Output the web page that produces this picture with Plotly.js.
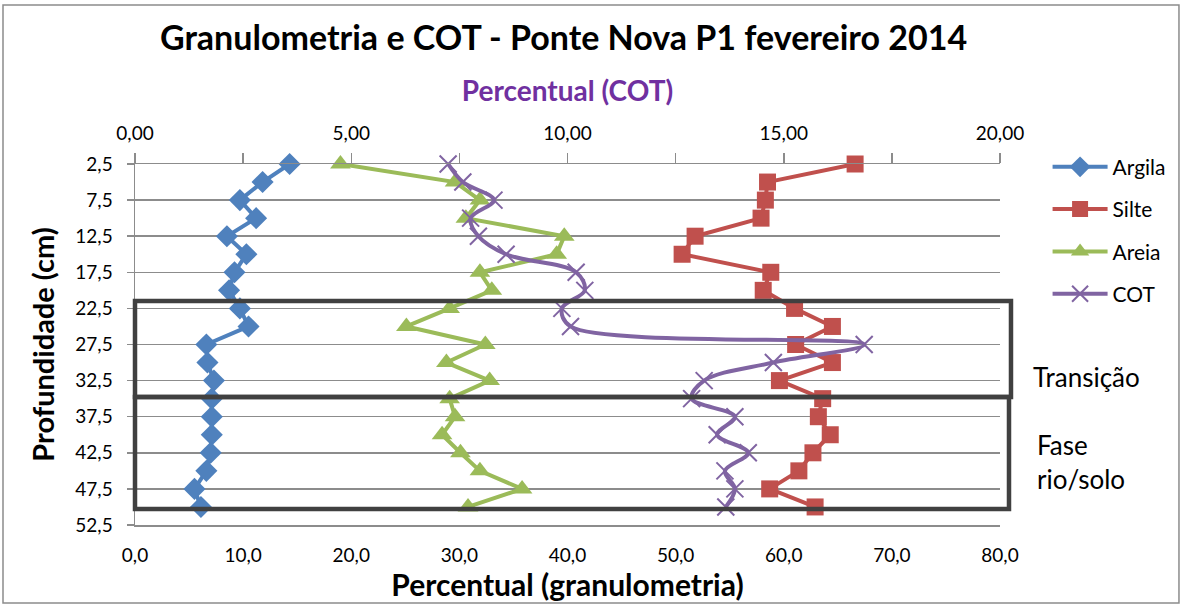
<!DOCTYPE html>
<html>
<head>
<meta charset="utf-8">
<script src="https://cdn.plot.ly/plotly-3.0.1.min.js"></script>
<style>html,body{margin:0;padding:0;background:#fff;}#chart{width:1184px;height:608px;}</style>
</head>
<body>
<div id="chart"></div>
<script>
// Depth (cm) of each sample
const depth = [2.5, 5, 7.5, 10, 12.5, 15, 17.5, 20, 22.5, 25, 27.5, 30, 32.5, 35, 37.5, 40, 42.5, 45, 47.5, 50];
// Granulometry (%)
const argila = [14.3, 11.8, 9.7, 11.2, 8.5, 10.3, 9.2, 8.7, 9.7, 10.5, 6.6, 6.7, 7.3, 7.1, 7.1, 7.1, 7.0, 6.6, 5.5, 6.1];
const silte  = [66.6, 58.5, 58.3, 57.9, 51.8, 50.6, 58.8, 58.1, 61.0, 64.5, 61.1, 64.5, 59.6, 63.6, 63.2, 64.3, 62.7, 61.4, 58.7, 62.9];
const areia  = [19.0, 29.6, 31.9, 30.6, 39.7, 39.0, 31.9, 33.0, 29.1, 25.1, 32.4, 28.8, 32.8, 29.1, 29.6, 28.4, 30.1, 31.9, 35.8, 30.8];
// Total organic carbon (%)
const cot    = [7.24, 7.58, 8.30, 7.76, 7.94, 8.58, 10.20, 10.40, 9.87, 10.07, 16.86, 14.76, 13.16, 12.87, 13.87, 13.46, 14.18, 13.64, 13.87, 13.66];

const seriesNames = ['Argila', 'Silte', 'Areia', 'COT'];
const chartTitle = 'Granulometria e COT - Ponte Nova P1 fevereiro 2014';
const zoneLabels = ['Transição', 'Fase<br>rio/solo'];

const FONT = 'Lato, "Open Sans", sans-serif';
const GRID = '#8c8c8c';

const traces = [
  {x: argila, y: depth, name: seriesNames[0], type: 'scatter', mode: 'lines+markers', xaxis: 'x', yaxis: 'y', legendgroup: 'a', cliponaxis: false,
   line: {color: '#4F81BD', width: 4}, marker: {symbol: 'diamond', size: 17, color: '#4F81BD'}},
  {x: silte, y: depth, name: seriesNames[1], type: 'scatter', mode: 'lines+markers', xaxis: 'x', yaxis: 'y', legendgroup: 'b', cliponaxis: false,
   line: {color: '#C0504D', width: 4}, marker: {symbol: 'square', size: 17, color: '#C0504D'}},
  {x: areia, y: depth, name: seriesNames[2], type: 'scatter', mode: 'lines+markers', xaxis: 'x', yaxis: 'y', legendgroup: 'c', cliponaxis: false,
   line: {color: '#9BBB59', width: 4}, marker: {symbol: 'triangle-up', size: 18, color: '#9BBB59'}},
  {x: cot, y: depth, name: seriesNames[3], type: 'scatter', mode: 'lines+markers', xaxis: 'x2', yaxis: 'y', legendgroup: 'd', cliponaxis: false,
   line: {color: '#8064A2', width: 4, shape: 'spline', smoothing: 1},
   marker: {symbol: 'x-thin-open', size: 17, color: '#8064A2', line: {color: '#8064A2', width: 2}}}
];

const layout = {
  width: 1184, height: 608,
  margin: {l: 135, r: 184, t: 164, b: 83},
  paper_bgcolor: '#ffffff', plot_bgcolor: '#ffffff',
  separators: ',.',
  font: {family: FONT, size: 19, color: '#000'},
  showlegend: true,
  title: {text: '<b>' + chartTitle + '</b>', font: {family: FONT, size: 34, color: '#000'},
          x: 0.476, xanchor: 'center', y: 0.938, yanchor: 'middle'},
  xaxis: {range: [0, 80], dtick: 10, tick0: 0, tickformat: '.1f', showgrid: false, zeroline: false,
          showline: true, linecolor: GRID, linewidth: 1.5, ticks: '', ticklabelstandoff: 13,
          tickfont: {size: 19},
          title: {text: '<b>Percentual (granulometria)</b>', font: {size: 30}, standoff: 5}},
  xaxis2: {range: [0, 20], dtick: 5, tick0: 0, tickformat: '.2f', overlaying: 'x', side: 'top',
           showgrid: false, zeroline: false, showline: true, linecolor: GRID, linewidth: 1.5,
           ticks: 'outside', ticklen: 10, tickcolor: GRID, tickwidth: 1.5, ticklabelstandoff: 5,
           minor: {dtick: 2.5, ticks: 'outside', ticklen: 10, tickcolor: GRID, tickwidth: 1.5},
           tickfont: {size: 19},
           title: {text: '<b>Percentual (COT)</b>', font: {size: 28, color: '#7030A0'}, standoff: 11}},
  yaxis: {range: [52.5, 2.5], tick0: 2.5, dtick: 5, tickformat: '.1f', showgrid: true, gridcolor: GRID, gridwidth: 1.5,
          zeroline: false, showline: true, linecolor: GRID, linewidth: 1.5, ticklabelstandoff: 10,
          ticks: 'outside', ticklen: 7, tickcolor: GRID, tickwidth: 1.5, tickfont: {size: 19},
          title: {text: '<b>Profundidade (cm)</b>', font: {size: 29}, standoff: 12}},
  legend: {x: 1.055, y: 1.048, xanchor: 'left', yanchor: 'top', font: {size: 21}, bgcolor: 'rgba(0,0,0,0)',
           traceorder: 'grouped', tracegroupgap: 12, itemwidth: 55},
  shapes: [
    // outer chart border
    {type: 'rect', xref: 'paper', yref: 'paper', x0: -0.1526, x1: 1.2069, y0: -0.2161, y1: 1.4404,
     line: {color: '#8c8c8c', width: 1.5}, layer: 'below'},
    // Transição box
    {type: 'rect', xref: 'paper', yref: 'paper', x0: 0.0, x1: 1.0127, y0: 0.3546, y1: 0.6205,
     line: {color: '#404040', width: 4.5}, layer: 'above'},
    // Fase rio/solo box
    {type: 'rect', xref: 'paper', yref: 'paper', x0: 0.0, x1: 1.0104, y0: 0.0443, y1: 0.3546,
     line: {color: '#404040', width: 4.5}, layer: 'above'}
  ],
  annotations: [
    {text: zoneLabels[0], xref: 'paper', yref: 'paper', x: 1.036, y: 0.41, xanchor: 'left', yanchor: 'middle',
     showarrow: false, align: 'left', font: {size: 26, color: '#000'}},
    {text: zoneLabels[1], xref: 'paper', yref: 'paper', x: 1.041, y: 0.175, xanchor: 'left', yanchor: 'middle',
     showarrow: false, align: 'left', font: {size: 26, color: '#000'}}
  ]
};

Plotly.newPlot('chart', traces, layout, {displayModeBar: false, staticPlot: true});
</script>
</body>
</html>
